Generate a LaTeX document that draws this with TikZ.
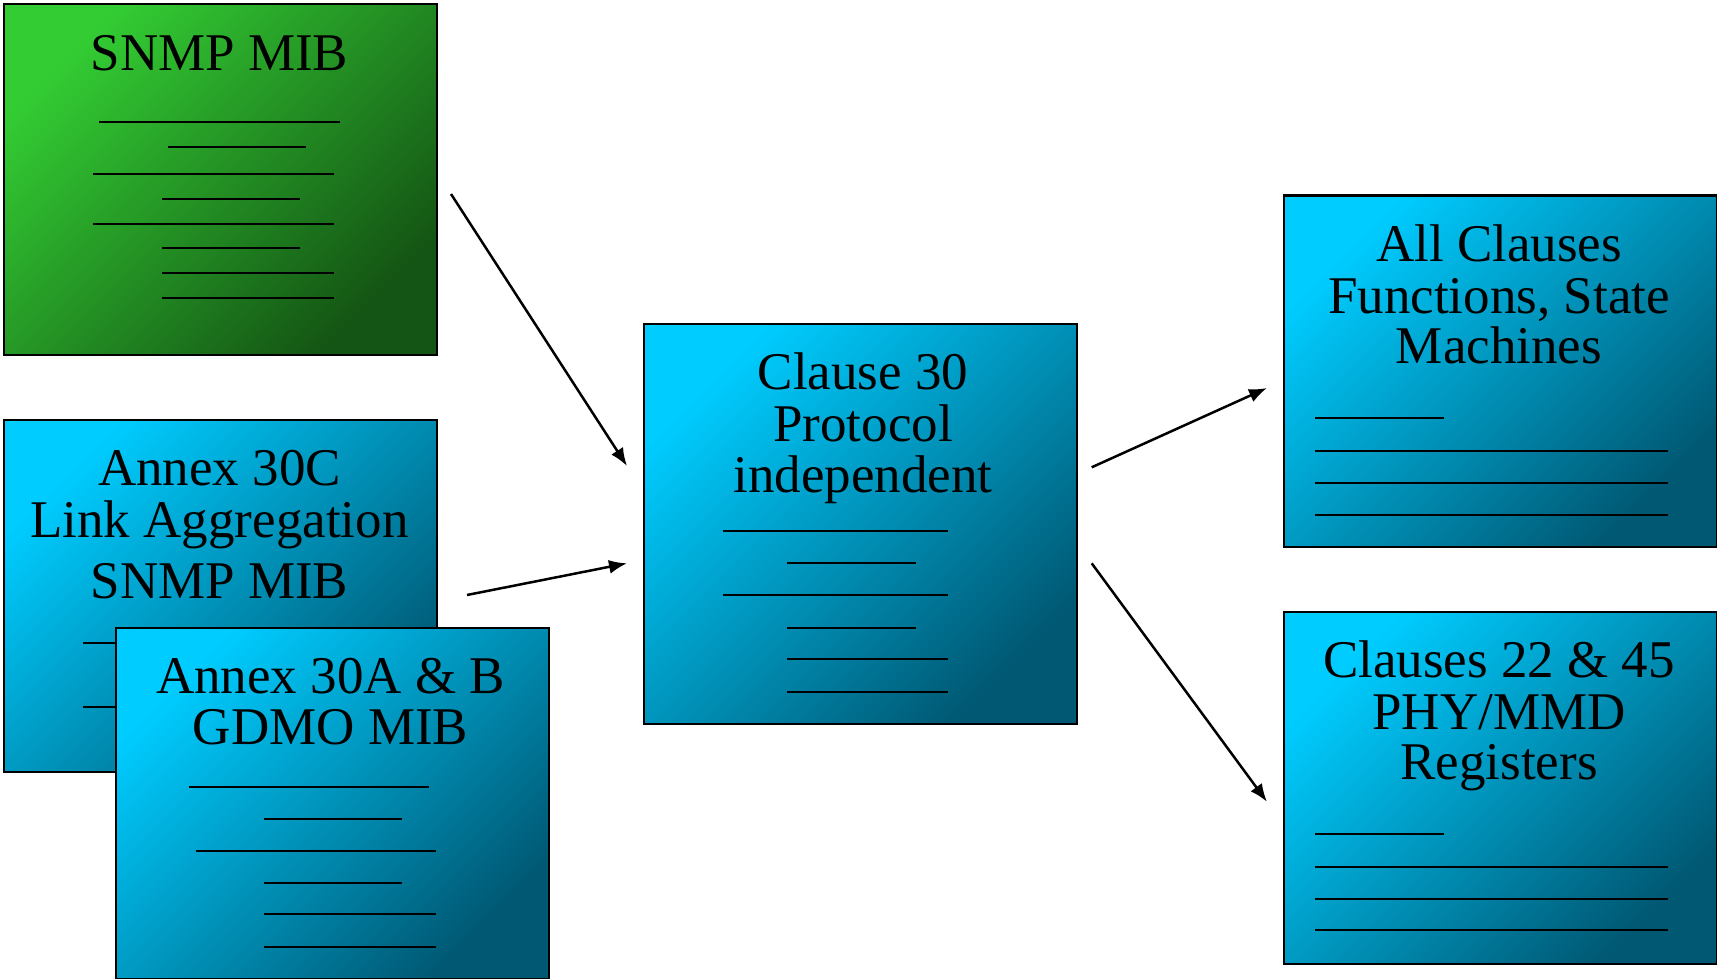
\documentclass[tikz,border=0pt]{standalone}
\usepackage{fontspec}
\setmainfont{Liberation Serif}
\usetikzlibrary{arrows.meta}
\definecolor{grnA}{RGB}{51,204,51}
\definecolor{grnB}{RGB}{20,84,20}
\definecolor{cynA}{RGB}{0,204,255}
\definecolor{cynB}{RGB}{0,88,115}
\tikzset{
  box/.style={draw=black, line width=2.4pt, anchor=north west, inner sep=0pt},
  greenbox/.style={box, top color=grnA, bottom color=grnB, shading angle=45},
  cyanbox/.style={box, top color=cynA, bottom color=cynB, shading angle=45},
  txt/.style={anchor=base, inner sep=0pt, font=\fontsize{53}{51}\selectfont},
  rule/.style={line width=2pt},
  conn/.style={line width=2.5pt, -{Latex[length=18pt,width=14pt]}}
}
\begin{document}
\begin{tikzpicture}[x=1pt,y=-1pt]
\useasboundingbox (0,0) rectangle (1717,979);

% SNMP MIB (green)
\node[greenbox, minimum width=433pt, minimum height=351pt] (snmp) at (3,3) {};
\node[txt] (snmpT) at (219.5,70.5) {SNMP MIB};
\draw[rule] (99,122) -- (340,122);
\draw[rule] (168,146.7) -- (306,146.7);
\draw[rule] (93,174.3) -- (334,174.3);
\draw[rule] (162,199.3) -- (300,199.3);
\draw[rule] (93,224) -- (334,224);
\draw[rule] (162,248.3) -- (300,248.3);
\draw[rule] (162,273.3) -- (334,273.3);
\draw[rule] (162,298.3) -- (334,298.3);

% Annex 30C
\node[cyanbox, minimum width=433pt, minimum height=352.5pt] (annexC) at (3,418.5) {};
\node[txt] (annexCa) at (219.5,485.7) {Annex 30C};
\node[txt] (annexCb) at (219.5,537.4) {Link Aggregation};
\node[txt] (annexCc) at (219.5,598.3) {SNMP MIB};
\draw[rule] (83,642.6) -- (330,642.6);
\draw[rule] (83,706.5) -- (330,706.5);

% Annex 30A & B
\node[cyanbox, minimum width=433.5pt, minimum height=351pt] (annexAB) at (114.5,627) {};
\node[txt] (annexABa) at (330.5,693.6) {Annex 30A \& B};
\node[txt] (annexABb) at (330.5,744.5) {GDMO MIB};
\draw[rule] (188.6,787) -- (428.6,787);
\draw[rule] (264,819) -- (402,819);
\draw[rule] (195.7,850.5) -- (435.7,850.5);
\draw[rule] (264,882.6) -- (402,882.6);
\draw[rule] (264,914.4) -- (435.7,914.4);
\draw[rule] (264,946.5) -- (435.7,946.5);

% Clause 30
\node[cyanbox, minimum width=433pt, minimum height=399.5pt] (cl30) at (643,323) {};
\node[txt] (cl30a) at (863,389.3) {Clause 30};
\node[txt] (cl30b) at (863,441) {Protocol};
\node[txt] (cl30c) at (863,492.3) {independent};
\draw[rule] (722.7,531) -- (948.3,531);
\draw[rule] (786.7,563.3) -- (916,563.3);
\draw[rule] (722.7,595.3) -- (948.3,595.3);
\draw[rule] (786.7,627.7) -- (916,627.7);
\draw[rule] (786.7,659.3) -- (948.3,659.3);
\draw[rule] (786.7,691.7) -- (948.3,691.7);

% All Clauses
\node[cyanbox, minimum width=432.5pt, minimum height=351.5pt] (allcl) at (1283,194.5) {};
\node[txt] (allcla) at (1499,261.5) {All Clauses};
\node[txt] (allclb) at (1499,313.5) {Functions, State};
\node[txt] (allclc) at (1499,363.5) {Machines};
\draw[rule] (1315,418) -- (1444.3,418);
\draw[rule] (1315,451) -- (1668.3,451);
\draw[rule] (1315,483) -- (1668.3,483);
\draw[rule] (1315,514.9) -- (1668.3,514.9);

% Clauses 22 & 45
\node[cyanbox, minimum width=432.5pt, minimum height=352pt] (cl22) at (1283,611) {};
\node[txt] (cl22a) at (1499,677) {Clauses 22 \& 45};
\node[txt] (cl22b) at (1499,729) {PHY/MMD};
\node[txt] (cl22c) at (1499,779) {Registers};
\draw[rule] (1315,834) -- (1444.3,834);
\draw[rule] (1315,866.5) -- (1668.3,866.5);
\draw[rule] (1315,898.6) -- (1668.3,898.6);
\draw[rule] (1315,930) -- (1668.3,930);

% connectors
\coordinate (a1s) at (451,194);
\coordinate (a1e) at (627,466);
\coordinate (a2s) at (467,595);
\coordinate (a2e) at (627,563.3);
\coordinate (a3s) at (1091.7,467.3);
\coordinate (a3e) at (1267,388);
\coordinate (a4s) at (1091.7,563.3);
\coordinate (a4e) at (1267,801.8);
\draw[conn] (a1s) -- (a1e);
\draw[conn] (a2s) -- (a2e);
\draw[conn] (a3s) -- (a3e);
\draw[conn] (a4s) -- (a4e);
\end{tikzpicture}
\end{document}
